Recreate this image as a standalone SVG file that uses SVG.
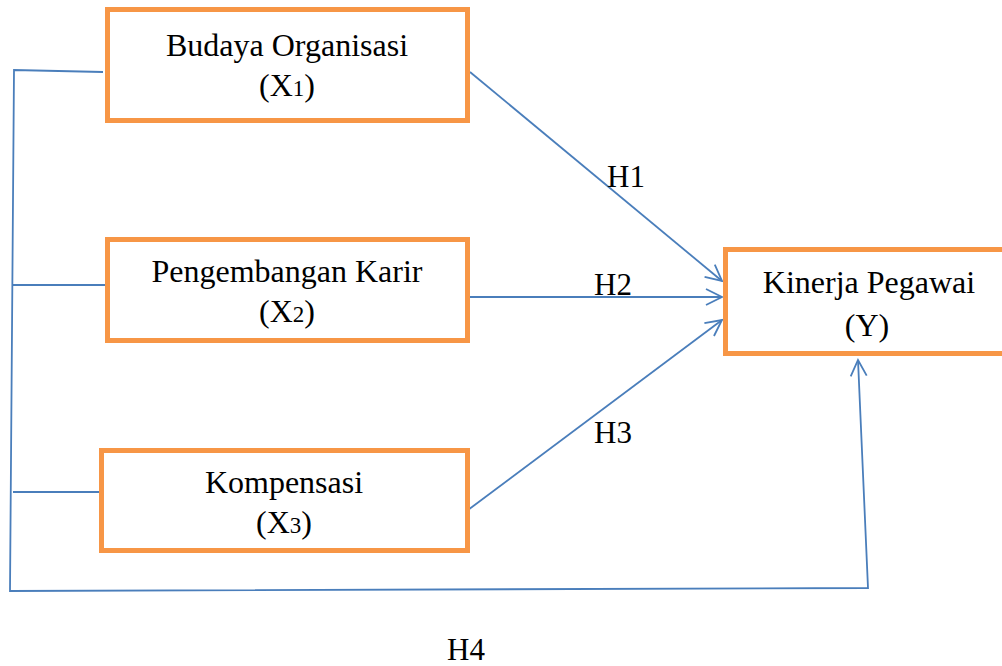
<svg xmlns="http://www.w3.org/2000/svg" width="1002" height="666" viewBox="0 0 1002 666">
<style>
.box{fill:#fff;stroke:#F79646;stroke-width:5}
.t{font-family:"Liberation Serif","Times New Roman",serif;font-size:32px;fill:#000;text-anchor:middle}
.h{font-family:"Liberation Serif","Times New Roman",serif;font-size:31px;fill:#000}
.c{fill:none;stroke:#4A7EBB;stroke-width:1.8}
.sm{font-size:23px}
</style>
<defs>
<marker id="arr" viewBox="0 0 20 20" refX="18" refY="10" markerWidth="20" markerHeight="20" markerUnits="userSpaceOnUse" orient="auto">
<path d="M2,2 L18,10 L2,18" fill="none" stroke="#4A7EBB" stroke-width="1.8"/>
</marker>
</defs>
<rect width="1002" height="666" fill="#fff"/>
<g id="connectors">
<path class="c" d="M470,72 L722,281" marker-end="url(#arr)"/>
<path class="c" d="M468,297 L722,297" marker-end="url(#arr)"/>
<path class="c" d="M468,510 L722,320" marker-end="url(#arr)"/>
<path class="c" d="M103,72 L14,70 L10,591 L868,588 L858,360" marker-end="url(#arr)"/>
<path class="c" d="M13,285 L105,285"/>
<path class="c" d="M13,492 L100,492"/>
</g>
<g id="x1">
<rect class="box" x="107.5" y="9.5" width="360" height="111"/>
<text class="t" x="287" y="56">Budaya Organisasi</text>
<text class="t" x="287" y="96">(X<tspan class="sm">1</tspan>)</text>
</g>
<g id="x2">
<rect class="box" x="107.5" y="239.5" width="360" height="101"/>
<text class="t" x="287" y="282">Pengembangan Karir</text>
<text class="t" x="287" y="322">(X<tspan class="sm">2</tspan>)</text>
</g>
<g id="x3">
<rect class="box" x="101.5" y="450.5" width="366" height="100"/>
<text class="t" x="284" y="493">Kompensasi</text>
<text class="t" x="284" y="533">(X<tspan class="sm">3</tspan>)</text>
</g>
<g id="y">
<rect class="box" x="725.5" y="249.5" width="290" height="104"/>
<text class="t" x="869" y="293">Kinerja Pegawai</text>
<text class="t" x="867" y="336">(Y)</text>
</g>
<g id="labels">
<text class="h" x="607" y="187">H1</text>
<text class="h" x="594" y="295">H2</text>
<text class="h" x="594" y="443">H3</text>
<text class="h" x="447" y="660">H4</text>
</g>
</svg>
